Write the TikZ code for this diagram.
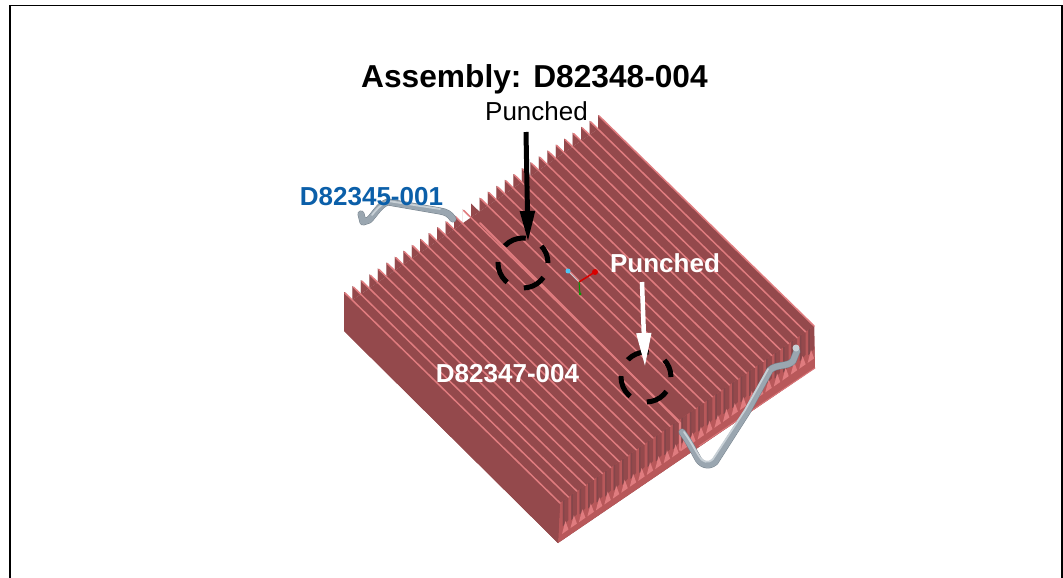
\documentclass[tikz,border=0pt]{standalone}
\usepackage{fontspec}
\setmainfont{Liberation Sans}
\usetikzlibrary{arrows.meta}
\definecolor{findark}{HTML}{94494C}
\definecolor{finmid}{HTML}{B8585A}
\definecolor{findeep}{HTML}{84464A}
\definecolor{finlight}{HTML}{E07C7F}
\definecolor{pipegray}{HTML}{9AA6B0}
\definecolor{pipelight}{HTML}{C8D0D6}
\definecolor{pipedark}{HTML}{76828C}
\definecolor{partblue}{HTML}{0B5FA9}
\tikzset{
  framing/.style={line width=1.5pt,black},
  finline/.style={finlight,line width=1.5pt,line cap=round},
  pipebase/.style={pipegray,line width=6pt,line cap=round,line join=round},
  pipehi/.style={pipelight,line width=1.8pt,line cap=round,line join=round},
  pipeedge/.style={pipedark,line width=7pt,line cap=round,line join=round},
  punchcircle/.style={circle,draw=black,line width=5pt,minimum size=50pt,inner sep=0pt,dash pattern=on 23pt off 18pt,dash phase=4.5pt},
  titletext/.style={font=\bfseries\fontsize{31.7}{36}\selectfont,text=black,inner sep=0pt},
  blacklabel/.style={font=\fontsize{26}{30}\selectfont,text=black,inner sep=0pt},
  whitelabel/.style={font=\bfseries\fontsize{26}{30}\selectfont,text=white,inner sep=0pt},
  bluelabel/.style={font=\bfseries\fontsize{26}{30}\selectfont,text=partblue,inner sep=0pt},
  blackarrow/.style={black,line width=5pt,-{Triangle[length=31pt,width=14pt]}},
  whitearrow/.style={white,line width=4.5pt,-{Triangle[length=34pt,width=14pt]}}
}
\begin{document}
\begin{tikzpicture}[x=1pt,y=-1pt]
\useasboundingbox (0,0) rectangle (1063,578);
\fill[white] (0,0) rectangle (1063,578);
% frame
\draw[framing] (10,580) -- (10,5.5) -- (1062,5.5) -- (1062,580);
% body
\fill[findark] (344,292) -- (352.5,300) -- (598,129) -- (598,115) -- (814,326) -- (815,368) -- (558,543) -- (344,331) -- cycle;
% teeth
\foreach \i in {0,...,29}{
  \pgfmathsetmacro{\px}{344+8.47*\i}
  \pgfmathsetmacro{\py}{292-5.9*\i}
  \pgfmathsetmacro{\qx}{\px+8.47}
  \pgfmathsetmacro{\qy}{\py-5.9}
  \pgfmathsetmacro{\nx}{\px+8.47}
  \pgfmathsetmacro{\ny}{\py+8.2}
  \ifnum\i=14
    \fill[findark] (\px,\py) -- (\nx,\ny) -- (\qx,\ny) -- cycle;
  \else
    \fill[findark] (\px,\py) -- (\nx,\ny) -- (\qx,\qy) -- (\qx,\qy+14) -- (\px,\py+14) -- cycle;
  \fi
}
% front end of the fins
\fill[finmid] (560,503) -- (814,326) -- (815,368) -- (558,543) -- cycle;
\foreach \i in {0,...,29}{
  \pgfmathsetmacro{\fx}{560+8.47*\i}
  \pgfmathsetmacro{\fy}{503-5.9*\i}
  \fill[findark] (\fx+2.8,\fy-2) -- (\fx+8.47,\fy-5.9) -- (\fx+8.47,\fy+17) -- (\fx+2.8,\fy+23) -- cycle;
  \fill[findeep] (\fx+2.8,\fy-2) -- (\fx+4.3,\fy-3) -- (\fx+4.3,\fy+21.5) -- (\fx+2.8,\fy+23) -- cycle;
  \fill[finlight] (\fx+5.4,\fy+18) -- (\fx+8.47,\fy+26.5) -- (\fx+2,\fy+31) -- cycle;
}
\draw[finlight!80!finmid,line width=1pt] (699,446) -- (815,368);
\fill[findark] (344,292) -- (560,503) -- (558,543) -- (344,331) -- cycle;
% ridges on top
\foreach \i in {0,...,30}{
  \ifnum\i=15\relax\else
  \pgfmathsetmacro{\px}{344+8.47*\i}
  \pgfmathsetmacro{\py}{292-5.9*\i}
  \pgfmathsetmacro{\fx}{\px+216}
  \pgfmathsetmacro{\fy}{\py+211}
  \draw[finline] (\px+1,\py+1) -- (\fx,\fy);
  \fi
}
% seam between the two plates
\draw[finlight,line width=2pt,line cap=round] (480,223) -- (680,423) -- (680,450);
% left pipe
\draw[pipeedge] (361,214) -- (363,222) -- (369,220) .. controls (375,214) and (380,204) .. (388,202) -- (440,211) .. controls (446,212) and (450,214) .. (453,219);
\draw[pipebase] (361,214) -- (363,222) -- (369,220) .. controls (375,214) and (380,204) .. (388,202) -- (440,211) .. controls (446,212) and (450,214) .. (453,219);
\draw[pipehi] (372,215) .. controls (376,210) and (380,205) .. (388,201) -- (440,209);
% right pipe
\draw[pipeedge] (682,432) .. controls (688,440) and (692,448) .. (697,457) .. controls (700,464) and (708,468) .. (715,462) -- (747,412) -- (770,370) .. controls (776,364) and (788,367) .. (793,361) -- (797,351);
\draw[pipebase] (682,432) .. controls (688,440) and (692,448) .. (697,457) .. controls (700,464) and (708,468) .. (715,462) -- (747,412) -- (770,370) .. controls (776,364) and (788,367) .. (793,361) -- (797,351);
\draw[pipehi] (684,432) .. controls (690,440) and (694,448) .. (699,456) .. controls (702,462) and (708,464) .. (713,459) -- (745,410) -- (768,369);
\fill[pipelight] (796,348) circle (3.5);
% triad
\coordinate (origin) at (579,282);
\coordinate (axisx) at (568,271);
\coordinate (axisy) at (595,272);
\coordinate (axisz) at (580,294);
\draw[pipelight,line width=1pt] (origin) -- (axisx);
\draw[red!85!black,line width=1.5pt] (origin) -- (axisy);
\draw[green!60!black,line width=1pt] (origin) -- (axisz);
\fill[cyan!70!white] (axisx) circle (2.5);
\fill[red!85!black] (axisy) circle (3);
\fill[green!60!black] (axisz) circle (1.5);
% circles
\node[punchcircle] (hole1) at (523,263) {};
\node[punchcircle] (hole2) at (646,377) {};
% labels
\node[titletext] (title) at (534.5,79) {Assembly: D82348-004};
\node[blacklabel] (punchedtop) at (536.5,111) {Punched};
\node[whitelabel] (punchedright) at (665,263.5) {Punched};
\node[bluelabel] (partleft) at (371.5,196.5) {D82345-001};
\node[whitelabel] (partmid) at (507.5,373.5) {D82347-004};
% arrows
\coordinate (blackstart) at (526,132);
\coordinate (whitestart) at (642,282);
\draw[blackarrow,shorten >=-1pt] (blackstart) -- (528,241);
\draw[whitearrow] (whitestart) -- (645,367);
\end{tikzpicture}
\end{document}
